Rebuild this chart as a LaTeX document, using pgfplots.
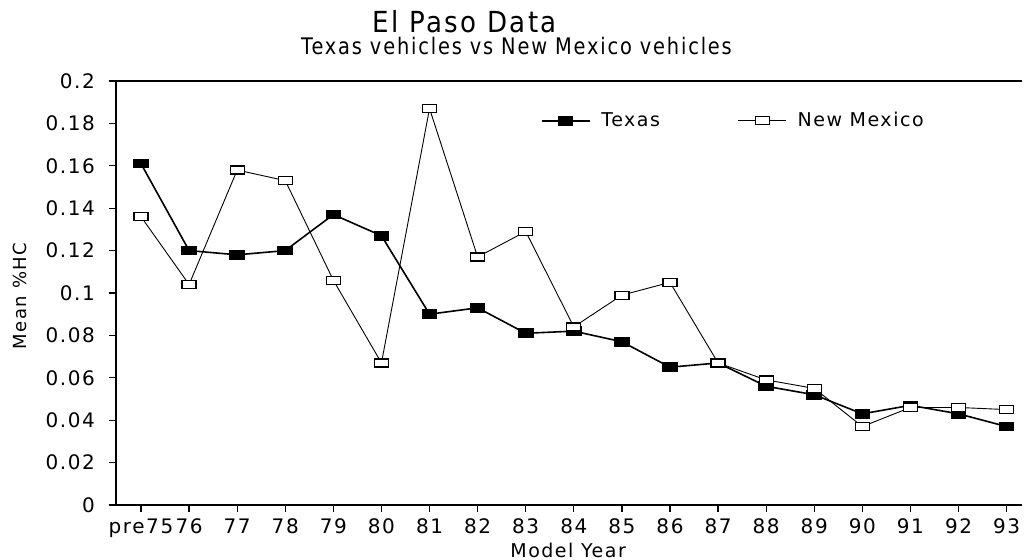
\documentclass[border=0pt]{standalone}
\usepackage{pgfplots}
\pgfplotsset{compat=1.18}
\usepackage{fontspec}
\setmainfont[LetterSpace=8]{DejaVu Sans}
\newfontfamily\titlefont[LetterSpace=8, FakeStretch=0.9]{DejaVu Sans}
\newfontfamily\subfont[LetterSpace=8, FakeStretch=0.85]{DejaVu Sans}
\begin{document}
\begin{tikzpicture}
\begin{axis}[
  scale only axis,
  width=453pt, height=212pt,
  at={(0,0)}, anchor=south west,
  axis lines=left,
  axis line style={-, line width=0.8pt},
  xmin=-0.52, xmax=18.32,
  ymin=0, ymax=0.2,
  xtick={0,1,...,18},
  xticklabels={pre75,76,77,78,79,80,81,82,83,84,85,86,87,88,89,90,91,92,93},
  ytick={0,0.02,0.04,0.06,0.08,0.1,0.12,0.14,0.16,0.18,0.2},
  yticklabels={0,0.02,0.04,0.06,0.08,0.1,0.12,0.14,0.16,0.18,0.2},
  tick align=outside,
  major tick length=3.5pt,
  tick style={line width=0.6pt, black},
  tick label style={font=\fontsize{10}{11}\selectfont},
  yticklabel style={xshift=-3.5pt},
  xticklabel style={yshift=0pt},
  xlabel={Model Year},
  ylabel={Mean \%HC},
  xlabel style={font=\fontsize{9.5}{11}\selectfont, at={(axis description cs:0.499,-0.106)}, anchor=center},
  ylabel style={font=\fontsize{9}{10}\selectfont, at={(axis description cs:-0.106,0.493)}, anchor=center},
  clip=false,
  legend columns=2,
  legend style={at={(rel axis cs:0.462,0.906)}, anchor=west, draw=none, fill=none,
    font=\fontsize{9.5}{10}\selectfont,
    /tikz/every odd column/.append style={column sep=3.5pt},
    /tikz/every even column/.append style={column sep=37pt}},
  legend image code/.code={\draw[mark repeat=2,mark phase=2] plot coordinates {(0cm,0cm)(0.42cm,0cm)(0.84cm,0cm)};},
]
\addplot[black, line width=0.8pt, mark=square*, mark size=2pt, mark options={xscale=1.75, fill=black, solid}] coordinates {
(0,0.161) (1,0.120) (2,0.118) (3,0.120) (4,0.137) (5,0.127) (6,0.090) (7,0.093) (8,0.081) (9,0.082)
(10,0.077) (11,0.065) (12,0.067) (13,0.056) (14,0.052) (15,0.043) (16,0.047) (17,0.043) (18,0.037)
};
\addlegendentry{Texas}
\addplot[black, line width=0.45pt, mark=square*, mark size=2pt, mark options={xscale=1.75, fill=white, draw=black, line width=0.6pt, solid}] coordinates {
(0,0.136) (1,0.104) (2,0.158) (3,0.153) (4,0.106) (5,0.067) (6,0.187) (7,0.117) (8,0.129) (9,0.084)
(10,0.099) (11,0.105) (12,0.067) (13,0.059) (14,0.055) (15,0.037) (16,0.046) (17,0.046) (18,0.045)
};
\addlegendentry{New Mexico}
\draw[line width=0.8pt] (rel axis cs:0,1) -- (rel axis cs:1,1);
\node[font=\titlefont\fontsize{14.5}{16}\selectfont] at (rel axis cs:0.385,1.139) {El Paso Data};
\node[font=\subfont\fontsize{11.4}{13}\selectfont] at (rel axis cs:0.442,1.083) {Texas vehicles vs New Mexico vehicles};
\end{axis}
\pgfresetboundingbox
\path (-58pt,-27.5pt) rectangle (454pt,252.5pt);
\end{tikzpicture}
\end{document}
